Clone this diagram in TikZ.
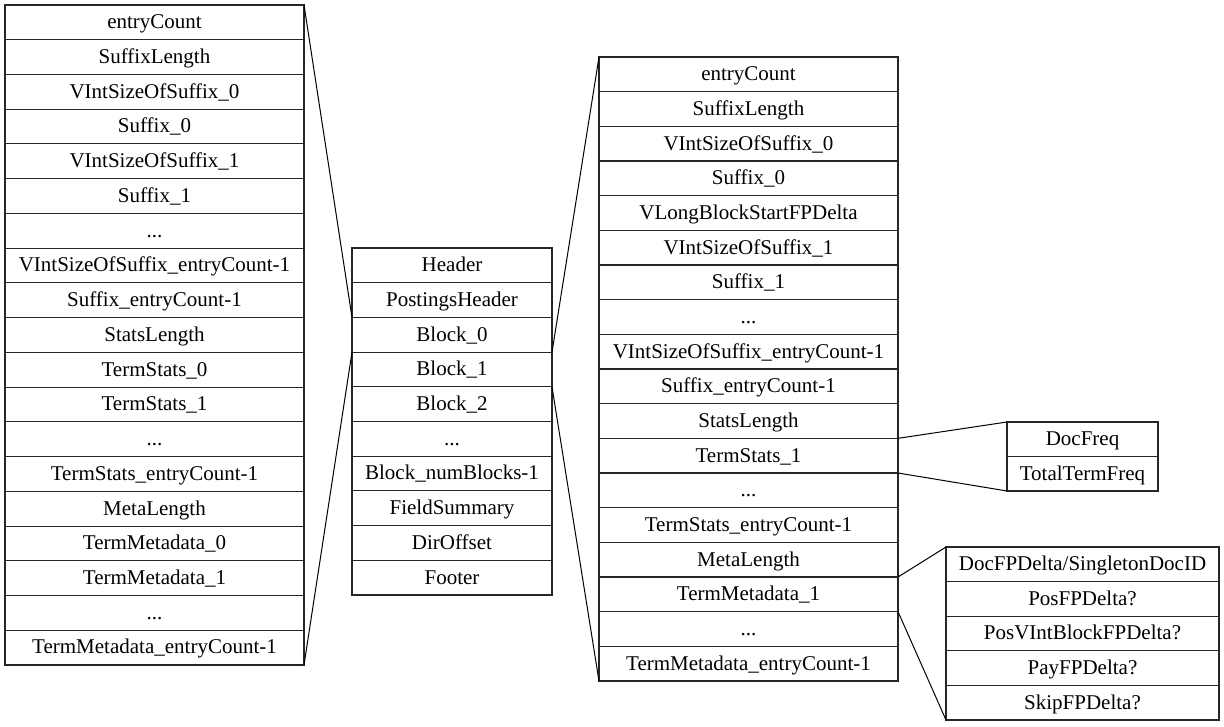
\documentclass[tikz,border=0pt]{standalone}
\usepackage{fontspec}
\setmainfont{Liberation Serif}
\newcommand\skipdots{...}
\begin{document}
\begin{tikzpicture}[x=1pt,y=1pt,
  cell/.style={draw=black!85, line width=1.1pt, inner sep=0pt, outer sep=0pt,
    anchor=north west, font=\fontsize{21}{25}\selectfont,
    text height=16.5pt, text depth=3.8pt},
  link/.style={draw=black, line width=1pt}]
\fill[white] (0,0) rectangle (1224,-727);
\useasboundingbox (0,0) rectangle (1224,-727);

% block contents (expansion of Block_0)
\foreach \t [count=\i] in {entryCount,SuffixLength,VIntSizeOfSuffix\_0,Suffix\_0,
  VIntSizeOfSuffix\_1,Suffix\_1,\skipdots,VIntSizeOfSuffix\_entryCount-1,Suffix\_entryCount-1,
  StatsLength,TermStats\_0,TermStats\_1,\skipdots,TermStats\_entryCount-1,MetaLength,
  TermMetadata\_0,TermMetadata\_1,\skipdots,TermMetadata\_entryCount-1}
  \node[cell, minimum width=299pt, minimum height=34.737pt] (L\i)
    at (5,{-5-(\i-1)*34.737}) {\t};

% file layout
\foreach \t [count=\i] in {Header,PostingsHeader,Block\_0,Block\_1,Block\_2,\skipdots,
  Block\_numBlocks-1,FieldSummary,DirOffset,Footer}
  \node[cell, minimum width=200pt, minimum height=34.7pt] (M\i)
    at (352,{-248-(\i-1)*34.7}) {\t};

% block contents (expansion of Block_1)
\foreach \t [count=\i] in {entryCount,SuffixLength,VIntSizeOfSuffix\_0,Suffix\_0,
  VLongBlockStartFPDelta,VIntSizeOfSuffix\_1,Suffix\_1,\skipdots,
  VIntSizeOfSuffix\_entryCount-1,Suffix\_entryCount-1,StatsLength,TermStats\_1,\skipdots,
  TermStats\_entryCount-1,MetaLength,TermMetadata\_1,\skipdots,TermMetadata\_entryCount-1}
  \node[cell, minimum width=299pt, minimum height=34.667pt] (R\i)
    at (599,{-57-(\i-1)*34.667}) {\t};

% term stats
\foreach \t [count=\i] in {DocFreq,TotalTermFreq}
  \node[cell, minimum width=151pt, minimum height=34.5pt] (S\i)
    at (1007,{-422-(\i-1)*34.5}) {\t};

% term metadata
\foreach \t [count=\i] in {DocFPDelta/SingletonDocID,PosFPDelta?,PosVIntBlockFPDelta?,
  PayFPDelta?,SkipFPDelta?}
  \node[cell, minimum width=273pt, minimum height=34.6pt] (T\i)
    at (946,{-547-(\i-1)*34.6}) {\t};

% expansion connectors
\draw[link] (L1.north east) -- (M3.north west);
\draw[link] (L19.south east) -- (M3.south west);
\draw[link] (M4.north east) -- (R1.north west);
\draw[link] (M4.south east) -- (R18.south west);
\draw[link] (R12.north east) -- (S1.north west);
\draw[link] (R12.south east) -- (S2.south west);
\draw[link] (R16.north east) -- (T1.north west);
\draw[link] (R16.south east) -- (T5.south west);
\end{tikzpicture}
\end{document}
